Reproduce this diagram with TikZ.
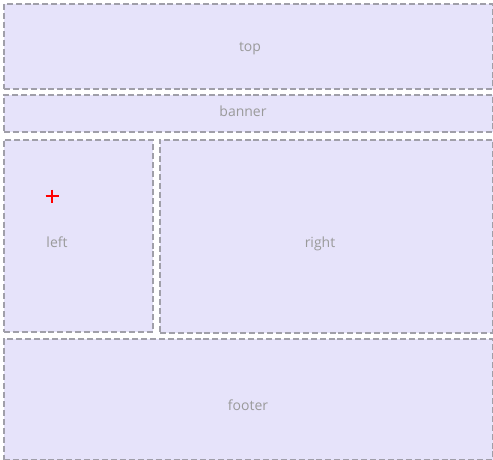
\documentclass[tikz,border=0pt]{standalone}
\usepackage{fontspec}
\setmainfont{Open Sans}
\usepackage{tikz}
\usetikzlibrary{positioning}
\definecolor{panelfill}{HTML}{E6E3FA}
\definecolor{panelline}{HTML}{A09FA9}
\definecolor{paneltext}{HTML}{9A9A9A}
\tikzstyle{panel} = [rectangle, anchor=north west, inner sep=0pt, fill=panelfill, draw=panelline, line width=1.2pt, dash pattern=on 4.5pt off 2.2pt]
\tikzstyle{caption} = [anchor=base, text=paneltext, font=\fontsize{10.5}{12}\selectfont]

\begin{document}
\begin{tikzpicture}[x=0.75pt, y=-0.75pt]
        \useasboundingbox (0,0) rectangle (493,460);
        \node[panel, minimum width=489*0.75pt, minimum height=85*0.75pt] (top) at (3,3) {};
        \node[panel, minimum width=489*0.75pt, minimum height=37*0.75pt] (banner) at (3,94) {};
        \node[panel, minimum width=149*0.75pt, minimum height=192*0.75pt] (left) at (3,139) {};
        \node[panel, minimum width=333*0.75pt, minimum height=193*0.75pt] (right) at (159,139) {};
        \node[panel, minimum width=489*0.75pt, minimum height=121*0.75pt] (footer) at (3,338) {};

        \node[caption] (toplabel) at (250,52) {top};
        \node[caption] (bannerlabel) at (243,117) {banner};
        \node[caption] (leftlabel) at (57,247) {left};
        \node[caption] (rightlabel) at (320,247) {right};
        \node[caption] (footerlabel) at (248,410) {footer};

        % red marker
        \coordinate (mark) at (52,196);
        \draw[red, line width=2.2pt] ([xshift=-6.5*0.75pt]mark) -- ([xshift=6.5*0.75pt]mark);
        \draw[red, line width=2.2pt] ([yshift=6.5*0.75pt]mark) -- ([yshift=-6.5*0.75pt]mark);
    \end{tikzpicture}
\end{document}
